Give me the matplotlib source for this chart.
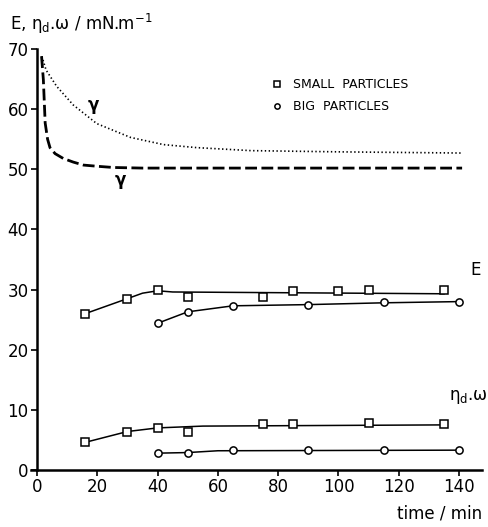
import matplotlib
matplotlib.use('Agg')
import matplotlib.pyplot as plt
from matplotlib.lines import Line2D

plt.rcParams['font.family'] = ['DejaVu Sans']
plt.rcParams['lines.scale_dashes'] = False
plt.rcParams['mathtext.default'] = 'regular'

# surface tension gamma, hand-drawn decay curves (time in min)
gam_dot_t = [1.6, 3, 6.5, 12, 19.8, 31, 42, 53, 71, 100, 141]
gam_dot = [68.8, 66.5, 63.8, 60.7, 57.6, 55.3, 54.1, 53.6, 53.1, 52.9, 52.7]
gam_dash_t = [1.5, 2.1, 2.7, 3.5, 4.3, 6, 8.7, 12, 15.4, 20, 25.3, 35, 141]
gam_dash = [68.8, 64.9, 57.7, 55.0, 53.6, 52.6, 51.8, 51.2, 50.7, 50.5, 50.3, 50.2, 50.2]

# elasticity E
small_t = [16, 30, 40, 50, 75, 85, 100, 110, 135]
small_E = [26.0, 28.5, 30.0, 28.7, 28.8, 29.8, 29.8, 30.0, 30.0]
big_t = [40, 50, 65, 90, 115, 140]
big_E = [24.4, 26.3, 27.3, 27.5, 28.0, 28.0]

# viscosity term eta_d * omega
small_vt = [16, 30, 40, 50, 75, 85, 110, 135]
small_eta = [4.6, 6.4, 7.0, 6.4, 7.6, 7.6, 7.8, 7.6]
big_eta = [2.8, 2.9, 3.4, 3.4, 3.4, 3.4]

# smooth guide lines through the points
small_E_fit_t = [16, 30, 35, 40, 45, 135]
small_E_fit = [26.0, 28.5, 29.4, 29.8, 29.6, 29.3]
big_E_fit_t = [40, 50, 65, 90, 115, 140]
big_E_fit = [24.4, 26.3, 27.3, 27.5, 27.8, 28.0]
small_eta_fit_t = [16, 30, 40, 55, 135]
small_eta_fit = [4.6, 6.4, 7.0, 7.3, 7.5]
big_eta_fit_t = [40, 50, 60, 140]
big_eta_fit = [2.8, 2.9, 3.2, 3.3]

xticks = [0, 20, 40, 60, 80, 100, 120, 140]
yticks = [0, 10, 20, 30, 40, 50, 60, 70]

fig = plt.figure(figsize=(4.89, 5.27), dpi=100)
ax = fig.add_axes([31 / 489, 57 / 527, 451 / 489, 421 / 527])

ax.plot(gam_dot_t, gam_dot, color='black', lw=1.2, linestyle=(0, (1.0, 1.8)))
ax.plot(gam_dash_t, gam_dash, color='black', lw=2.0, linestyle=(0, (8.5, 3.2)))

for tt, yy in [(small_E_fit_t, small_E_fit), (big_E_fit_t, big_E_fit),
               (small_eta_fit_t, small_eta_fit), (big_eta_fit_t, big_eta_fit)]:
    ax.plot(tt, yy, color='black', lw=1.1, zorder=2)

sq = dict(marker='s', ms=5.8, mfc='white', mec='black', mew=1.1, ls='none', zorder=3)
ci = dict(marker='o', ms=5.2, mfc='white', mec='black', mew=1.1, ls='none', zorder=3)
ax.plot(small_t, small_E, **sq)
ax.plot(small_vt, small_eta, **sq)
ax.plot(big_t, big_E, **ci)
ax.plot(big_t, big_eta, **ci)

# curve labels
ax.text(18.7, 60.7, 'γ', fontsize=12, fontweight='bold', ha='center', va='center')
ax.text(27.5, 48.3, 'γ', fontsize=12, fontweight='bold', ha='center', va='center')
ax.text(145.3, 33.2, 'E', fontsize=12, ha='center', va='center', clip_on=False)
ax.text(143, 12.2, 'η$_{d}$.ω', fontsize=12, ha='center', va='center', clip_on=False)

handles = [Line2D([], [], marker='s', ms=4.5, mfc='white', mec='black', mew=1.1, ls='none'),
           Line2D([], [], marker='o', ms=3.8, mfc='white', mec='black', mew=1.1, ls='none')]
ax.legend(handles, ['SMALL  PARTICLES', 'BIG  PARTICLES'], loc='upper left',
          bbox_to_anchor=(0.534, 0.931), frameon=False, fontsize=9,
          handlelength=0.8, handletextpad=0.9, labelspacing=0.75,
          borderpad=0, borderaxespad=0)

ax.set_xlim(-2, 147.6)
ax.set_ylim(0, 70)
ax.spines['left'].set_position(('data', 0))
ax.spines['top'].set_visible(False)
ax.spines['right'].set_visible(False)
ax.spines['left'].set_linewidth(1.8)
ax.spines['bottom'].set_linewidth(1.8)
ax.set_xticks(xticks)
ax.set_yticks(yticks)
ax.tick_params(direction='out', length=4, width=1.2, labelsize=12, pad=2)

fig.text(10 / 489, 1 - 24 / 527, 'E, η$_{d}$.ω / mN.m$^{-1}$', fontsize=12,
         ha='left', va='center')
fig.text(482 / 489, 1 - 513 / 527, 'time / min', fontsize=12, ha='right', va='center')

fig.savefig('out.png', dpi=100)
